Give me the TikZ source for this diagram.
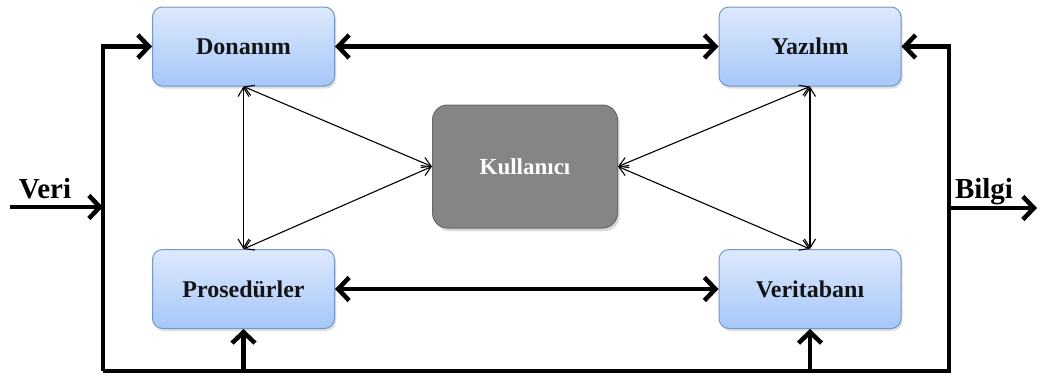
\documentclass[tikz,border=0pt]{standalone}
\usepackage{fontspec}
\setmainfont{Liberation Serif}
\usetikzlibrary{arrows.meta,shadows}
\definecolor{boxtop}{HTML}{DDE9FD}
\definecolor{boxbot}{HTML}{A6C7F8}
\definecolor{boxline}{HTML}{6E98D2}
\definecolor{userfill}{HTML}{858585}
\definecolor{userline}{HTML}{6A6A6A}
\definecolor{boxtext}{HTML}{141414}
\begin{document}
\begin{tikzpicture}[x=1pt,y=-1pt,
  unit/.style={draw=boxline, line width=1pt, rounded corners=10pt,
    top color=boxtop, bottom color=boxbot,
    minimum width=182pt, minimum height=79pt, inner sep=0pt,
    font=\fontsize{24}{26}\selectfont\bfseries, text=boxtext,
    drop shadow={opacity=0.25, shadow xshift=1.5pt, shadow yshift=-2.5pt}},
  user/.style={draw=userline, line width=1pt, rounded corners=15pt,
    fill=userfill, minimum width=185pt, minimum height=123pt, inner sep=0pt,
    font=\fontsize{23}{25}\selectfont\bfseries, text=white,
    drop shadow={opacity=0.3, shadow xshift=2pt, shadow yshift=-3pt}},
  flow/.style={line width=4.5pt, line join=miter, line cap=butt},
  flowtip/.style={-{Straight Barb[length=11pt,width=23pt,line width=4.5pt]}},
  bothtip/.style={{Straight Barb[length=11pt,width=23pt,line width=4.5pt]}-{Straight Barb[length=11pt,width=23pt,line width=4.5pt]}},
  link/.style={line width=1.1pt,
    {Straight Barb[length=9pt,width=11pt,line width=1.1pt]}-{Straight Barb[length=9pt,width=11pt,line width=1.1pt]}},
  tag/.style={font=\fontsize{29}{31}\selectfont\bfseries, inner sep=0pt}]
\useasboundingbox (0,0) rectangle (1041,376);

% component boxes
\node[unit] (don) at (243.5,46.5) {Donanım};
\node[unit] (yaz) at (810,46.5) {Yazılım};
\node[unit] (pro) at (243.5,289) {Prosedürler};
\node[unit] (ver) at (810,289) {Veritabanı};
\node[user] (usr) at (525,166.5) {Kullanıcı};

% outer frame corners and the input/output ends
\coordinate (tl) at (103,46.5);
\coordinate (bl) at (103,371);
\coordinate (br) at (949,371);
\coordinate (tr) at (949,46.5);
\coordinate (vin) at (10,207);
\coordinate (bout) at (1037,208);

% thick frame with its arrows
\draw[flow,flowtip] (bl) -- (tl) -- (don.west);
\draw[flow,flowtip] (bl) -- (br) -- (tr) -- (yaz.east);
\draw[flow,flowtip] (vin) -- (vin -| tl);
\draw[flow,flowtip] (tr |- bout) -- (bout);
\draw[flow,flowtip] (pro.south |- br) -- (pro.south);
\draw[flow,flowtip] (ver.south |- br) -- (ver.south);

% horizontal two-way links
\draw[flow,bothtip] (don.east) -- (yaz.west);
\draw[flow,bothtip] (pro.east) -- (ver.west);

% thin two-way links
\draw[link] (don.south) -- (pro.north);
\draw[link] (yaz.south) -- (ver.north);
\draw[link] (don.south) -- (usr.west);
\draw[link] (pro.north) -- (usr.west);
\draw[link] (yaz.south) -- (usr.east);
\draw[link] (ver.north) -- (usr.east);

% labels of the input and output
\node[tag, anchor=base] (veri) at (45,198) {Veri};
\node[tag, anchor=base] (bilgi) at (984,198) {Bilgi};
\end{tikzpicture}
\end{document}
